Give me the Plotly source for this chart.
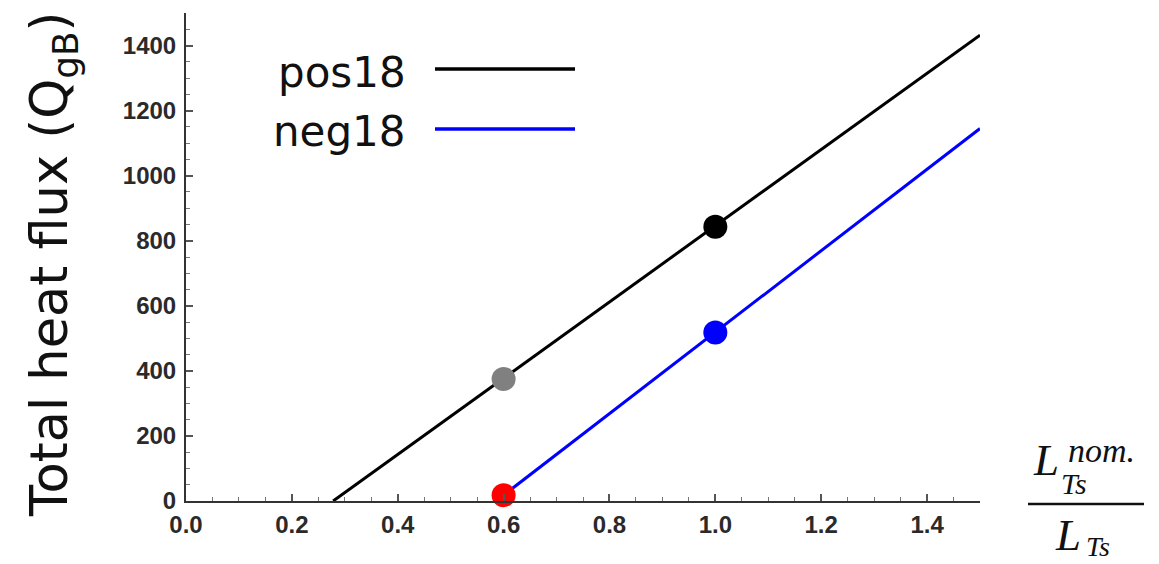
import plotly.graph_objects as go

# ---- data ----
pos18_x = [0.278, 1.5]
pos18_y = [0, 1432]
neg18_x = [0.6, 1.5]
neg18_y = [18, 1145]
point_x = [0.6, 1.0, 0.6, 1.0]
point_y = [375, 843, 18, 518]
point_colors = ["#808080", "#000000", "#ff0000", "#0000ff"]
series_names = ["pos18", "neg18"]
series_colors = ["#000000", "#0000ff"]
x_ticks = [0.0, 0.2, 0.4, 0.6, 0.8, 1.0, 1.2, 1.4]
x_ticklabels = ["0.0", "0.2", "0.4", "0.6", "0.8", "1.0", "1.2", "1.4"]
y_ticks = [0, 200, 400, 600, 800, 1000, 1200, 1400]

W, H = 1159, 564
L, R, T, B = 186, 980, 13, 501


def px(x):
    return (x - L) / (R - L)


def py(y):
    return (B - y) / (B - T)


fig = go.Figure()
fig.add_trace(go.Scatter(x=pos18_x, y=pos18_y, mode="lines",
                         line=dict(color=series_colors[0], width=3), showlegend=False))
fig.add_trace(go.Scatter(x=neg18_x, y=neg18_y, mode="lines",
                         line=dict(color=series_colors[1], width=3), showlegend=False))
fig.add_trace(go.Scatter(x=point_x, y=point_y, mode="markers",
                         marker=dict(color=point_colors, size=24, line=dict(width=0)),
                         showlegend=False, cliponaxis=False))

tickfont = dict(family="Liberation Sans, Arial", size=24, color="#2a2a2a", weight="bold")
fig.update_xaxes(range=[0, 1.5], tickvals=x_ticks, ticktext=x_ticklabels,
                 showgrid=False, zeroline=False, showline=True, linecolor="#333333", linewidth=2,
                 ticks="inside", ticklen=7, tickwidth=1.5, tickcolor="#555555",
                 minor=dict(dtick=0.05, ticks="inside", ticklen=4, tickwidth=1.2, tickcolor="#777777"),
                 tickfont=tickfont, ticklabelstandoff=1)
fig.update_yaxes(range=[0, 1500], tickvals=y_ticks,
                 showgrid=False, zeroline=False, showline=True, linecolor="#333333", linewidth=2,
                 ticks="inside", ticklen=7, tickwidth=1.5, tickcolor="#555555",
                 minor=dict(dtick=50, ticks="inside", ticklen=4, tickwidth=1.2, tickcolor="#777777"),
                 tickfont=tickfont, ticklabelstandoff=3)

ann = []
shapes = []
# legend
leg_y = [72, 131]
for name, col, yy in zip(series_names, series_colors, leg_y):
    ann.append(dict(x=px(408), y=py(yy), xref="paper", yref="paper", text=name,
                    showarrow=False, xanchor="right", yanchor="middle",
                    font=dict(family="DejaVu Sans", size=42, color="#111111")))
leg_line_y = [69, 129]
for col, yy in zip(series_colors, leg_line_y):
    shapes.append(dict(type="line", xref="paper", yref="paper", x0=px(435), x1=px(575),
                       y0=py(yy), y1=py(yy), line=dict(color=col, width=3.5)))

# y title
ann.append(dict(x=px(53), y=py(265), xref="paper", yref="paper",
                text="Total heat flux (Q<sub>gB</sub>)", textangle=-90, showarrow=False,
                xanchor="center", yanchor="middle",
                font=dict(family="DejaVu Sans", size=51, color="#111111")))

# x label fraction
serif = "Liberation Serif, Times New Roman"
shapes.append(dict(type="line", xref="paper", yref="paper", x0=px(1028), x1=px(1144),
                   y0=py(504), y1=py(504), line=dict(color="#111111", width=2.5)))
ann.append(dict(x=px(1031), y=py(460), xref="paper", yref="paper", text="<i>L</i>",
                showarrow=False, xanchor="left", yanchor="middle",
                font=dict(family=serif, size=45, color="#111111")))
ann.append(dict(x=px(1066), y=py(450), xref="paper", yref="paper", text="<i>nom.</i>",
                showarrow=False, xanchor="left", yanchor="middle",
                font=dict(family=serif, size=34, color="#111111")))
ann.append(dict(x=px(1059), y=py(483), xref="paper", yref="paper", text="<i>Ts</i>",
                showarrow=False, xanchor="left", yanchor="middle",
                font=dict(family=serif, size=30, color="#111111")))
ann.append(dict(x=px(1053), y=py(535), xref="paper", yref="paper", text="<i>L</i>",
                showarrow=False, xanchor="left", yanchor="middle",
                font=dict(family=serif, size=45, color="#111111")))
ann.append(dict(x=px(1084), y=py(546), xref="paper", yref="paper", text="<i>Ts</i>",
                showarrow=False, xanchor="left", yanchor="middle",
                font=dict(family=serif, size=28, color="#111111")))

fig.update_layout(width=W, height=H, margin=dict(l=L, r=W - R, t=T, b=H - B),
                  paper_bgcolor="white", plot_bgcolor="white",
                  annotations=ann, shapes=shapes, showlegend=False)
fig.write_html("out.html")
